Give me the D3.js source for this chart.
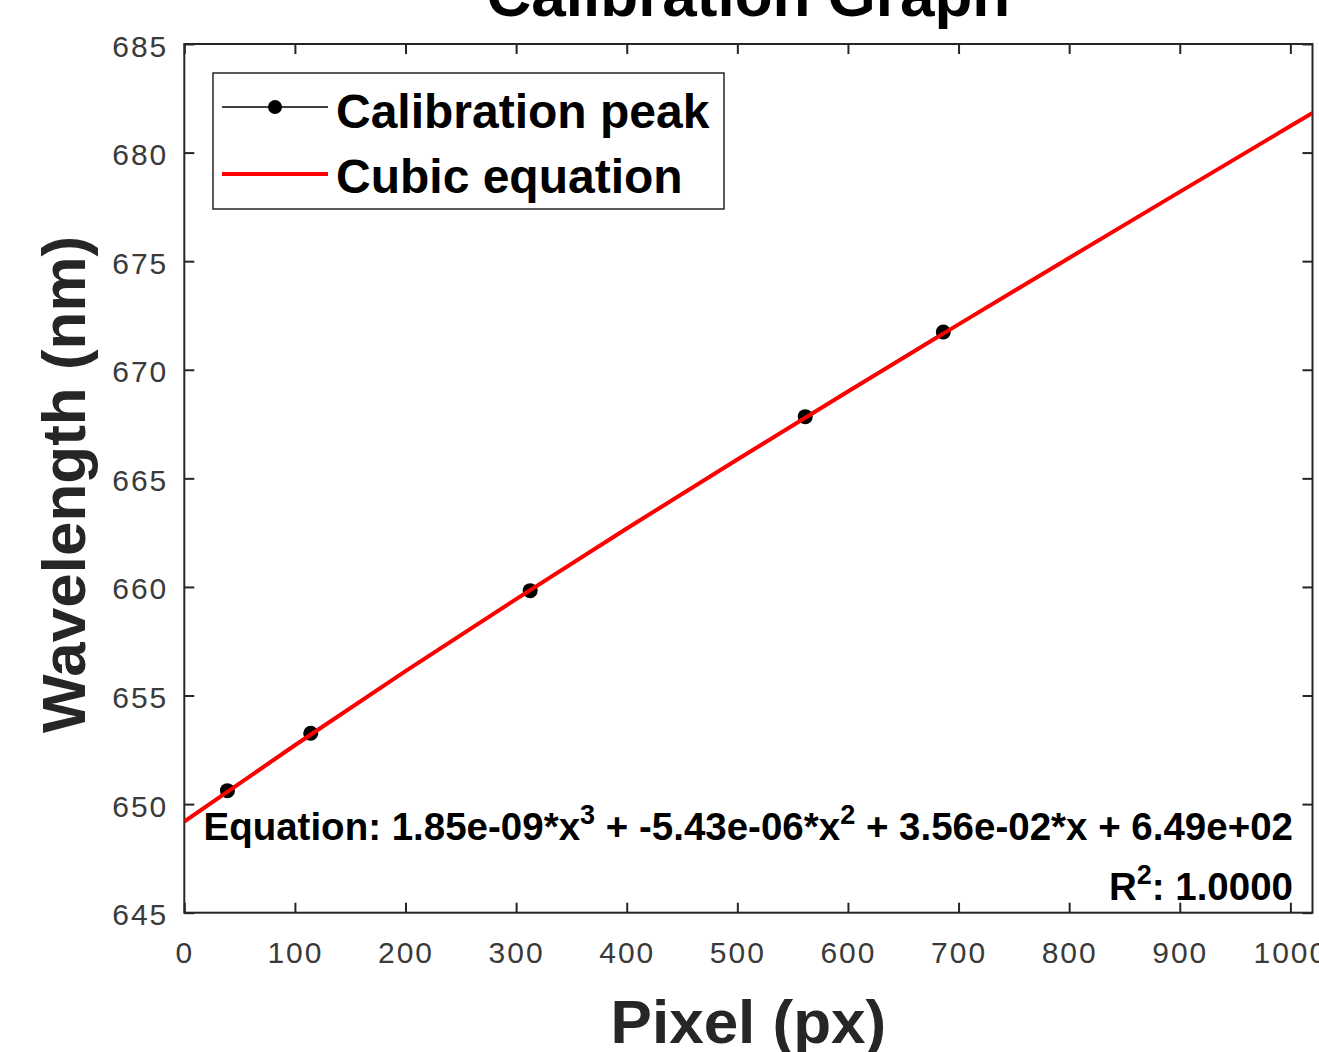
<!DOCTYPE html>
<html><head><meta charset="utf-8">
<script src="https://cdn.jsdelivr.net/npm/d3@7"></script>
<style>
body{margin:0;background:#fff;overflow:hidden}
text{font-family:"Liberation Sans",Arial,Helvetica,sans-serif}
</style>
</head><body>
<svg id="chart" width="1319" height="1052"></svg>
<script>
// ---- data ----
const peakPixels      = [39, 114.3, 312.7, 561.4, 686.2];
const peakWavelengths = [650.62, 653.26, 659.83, 667.84, 671.74];

const fitPixels      = [0, 100, 200, 300, 400, 500, 600, 700, 800, 900, 1000, 1020];
const fitWavelengths = [649.20, 652.71, 656.12, 659.44, 662.69, 665.87, 669.00, 672.09, 675.15, 678.19, 681.22, 681.83];

const xTickValues = [0, 100, 200, 300, 400, 500, 600, 700, 800, 900, 1000];
const yTickValues = [645, 650, 655, 660, 665, 670, 675, 680, 685];

const titleText  = "Calibration Graph";
const xLabelText = "Pixel (px)";
const yLabelText = "Wavelength (nm)";
const legendLabels = ["Calibration peak", "Cubic equation"];
const coefText = ["Equation: 1.85e-09*x", "3", " + -5.43e-06*x", "2", " + 3.56e-02*x + 6.49e+02"];
const r2Text = ["R", "2", ": 1.0000"];

// ---- layout ----
const L = 184.3, R = 1312.5, T = 44, B = 912.7;
const svg = d3.select("#chart");
const axisColor = "#262626";

const x = d3.scaleLinear().domain([0, 1020]).range([L, R]);
const y = d3.scaleLinear().domain([645, 685]).range([B, T]);

// axes (ticks inward)
const tickLen = 10;
const gx = svg.append("g").attr("transform", `translate(0,${B})`)
  .call(d3.axisBottom(x).tickValues(xTickValues).tickFormat(d3.format("d")).tickSizeInner(-tickLen).tickSizeOuter(0).tickPadding(29));
const gxTop = svg.append("g").attr("transform", `translate(0,${T})`)
  .call(d3.axisTop(x).tickValues(xTickValues).tickSizeInner(-tickLen).tickSizeOuter(0).tickFormat(""));
const gy = svg.append("g").attr("transform", `translate(${L},0)`)
  .call(d3.axisLeft(y).tickValues(yTickValues).tickSizeInner(-tickLen).tickSizeOuter(0).tickPadding(16));
const gyR = svg.append("g").attr("transform", `translate(${R},0)`)
  .call(d3.axisRight(y).tickValues(yTickValues).tickSizeInner(-tickLen).tickSizeOuter(0).tickFormat(""));

[gx, gxTop, gy, gyR].forEach(g => {
  g.select(".domain").remove();
  g.selectAll(".tick line").attr("stroke", axisColor).attr("stroke-width", 2);
});
[gx, gy].forEach(g => {
  g.selectAll(".tick text")
    .attr("fill", "#3a3a3a")
    .style("font-size", "30px")
    .style("letter-spacing", "2px");
});
gx.selectAll(".tick text").attr("dy", "0.71em");
gy.selectAll(".tick text").attr("dy", "0.4em");

// plot box
svg.append("rect").attr("x", L).attr("y", T).attr("width", R - L).attr("height", B - T)
  .attr("fill", "none").attr("stroke", axisColor).attr("stroke-width", 2);

// clip
svg.append("clipPath").attr("id", "clip").append("rect")
  .attr("x", L).attr("y", T).attr("width", R - L).attr("height", B - T);

const plot = svg.append("g").attr("clip-path", "url(#clip)");
const peaks = peakPixels.map((p, i) => [p, peakWavelengths[i]]);
const fit = fitPixels.map((p, i) => [p, fitWavelengths[i]]);
const line = d3.line().x(d => x(d[0])).y(d => y(d[1])).curve(d3.curveMonotoneX);

plot.append("path").datum(peaks).attr("d", d3.line().x(d => x(d[0])).y(d => y(d[1])))
  .attr("fill", "none").attr("stroke", "#000").attr("stroke-width", 1.2);
plot.selectAll("circle.peak").data(peaks).enter().append("circle")
  .attr("class", "peak").attr("cx", d => x(d[0])).attr("cy", d => y(d[1])).attr("r", 7.5).attr("fill", "#000");
plot.append("path").datum(fit).attr("d", line)
  .attr("fill", "none").attr("stroke", "#ff0000").attr("stroke-width", 4);

// equation text
const eq = svg.append("text").attr("x", 1293).attr("y", 840).attr("text-anchor", "end")
  .attr("font-weight", "bold").style("font-size", "38.5px").attr("fill", "#000");
coefText.forEach((t, i) => {
  if (i % 2 === 1) {
    eq.append("tspan").text(t).style("font-size", "27px").attr("dy", -16);
  } else {
    eq.append("tspan").text(t).attr("dy", i === 0 ? 0 : 16);
  }
});
const r2 = svg.append("text").attr("x", 1293).attr("y", 900).attr("text-anchor", "end")
  .attr("font-weight", "bold").style("font-size", "38.5px").attr("fill", "#000");
r2.append("tspan").text(r2Text[0]);
r2.append("tspan").text(r2Text[1]).style("font-size", "27px").attr("dy", -16);
r2.append("tspan").text(r2Text[2]).attr("dy", 16);

// legend
const lg = svg.append("g");
lg.append("rect").attr("x", 213).attr("y", 73).attr("width", 511).attr("height", 136)
  .attr("fill", "#fff").attr("stroke", axisColor).attr("stroke-width", 1.5);
lg.append("line").attr("x1", 222).attr("x2", 328).attr("y1", 107).attr("y2", 107)
  .attr("stroke", "#000").attr("stroke-width", 1.5);
lg.append("circle").attr("cx", 275).attr("cy", 107).attr("r", 7).attr("fill", "#000");
lg.append("line").attr("x1", 222).attr("x2", 328).attr("y1", 174).attr("y2", 174)
  .attr("stroke", "#ff0000").attr("stroke-width", 4);
legendLabels.forEach((t, i) => {
  lg.append("text").attr("x", 336).attr("y", 128 + i * 65).text(t)
    .attr("font-weight", "bold").style("font-size", "48px").attr("fill", "#000");
});

// title & axis labels
svg.append("text").attr("x", (L + R) / 2).attr("y", 16).attr("text-anchor", "middle")
  .attr("font-weight", "bold").style("font-size", "62px").attr("fill", "#000").text(titleText);
svg.append("text").attr("x", (L + R) / 2).attr("y", 1043).attr("text-anchor", "middle")
  .attr("font-weight", "bold").style("font-size", "62px").attr("fill", "#262626").text(xLabelText);
svg.append("text").attr("transform", `translate(85,${(T + B) / 2 + 6}) rotate(-90)`).attr("text-anchor", "middle")
  .attr("font-weight", "bold").style("font-size", "62px").attr("fill", "#262626").text(yLabelText);
</script>
</body></html>
